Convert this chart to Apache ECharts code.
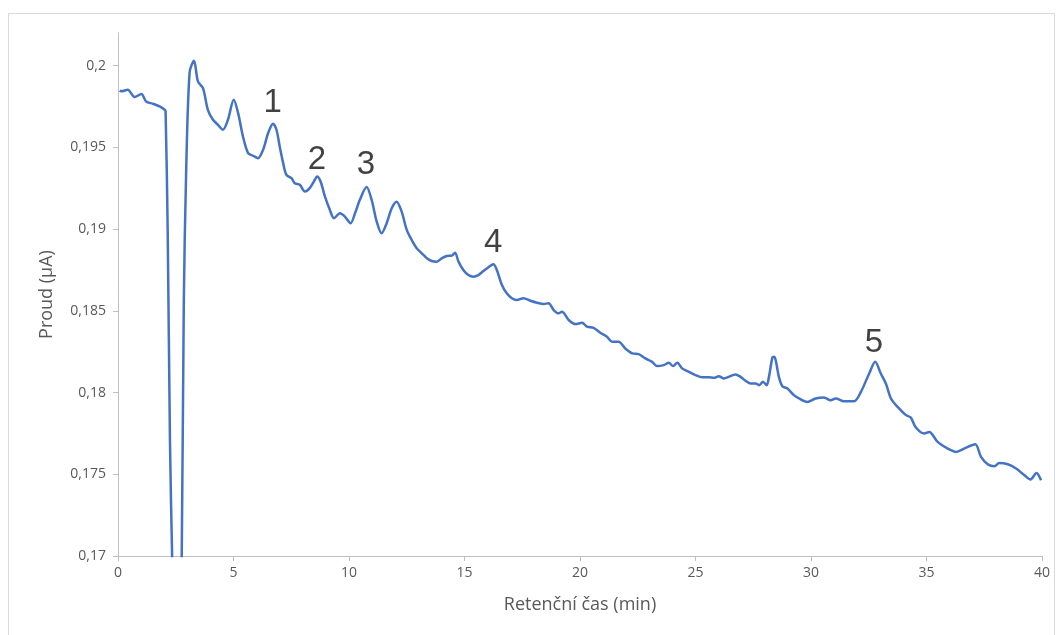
<!DOCTYPE html>
<html lang="cs">

<head>
    <meta charset="UTF-8">
    <title>Chromatogram</title>
    <style>
        * {
            margin: 0;
            padding: 0;
        }

        #main {
            width: 1058px;
            height: 635px;
            background: #fff;
        }
    </style>
</head>

<body>
    <div id="main"></div>
</body>
<script src="https://cdn.jsdelivr.net/npm/echarts@6/dist/echarts.min.js"></script>
<script>
    // retention time (min)
    let times = [
        0.07, 0.14, 0.42, 0.72, 1.01, 1.22, 1.51, 1.80, 2.02,
        2.06, 2.15, 2.25, 2.35, 2.50, 2.65, 2.75, 2.85, 2.95, 3.10,
        3.29, 3.46, 3.68, 3.89, 4.11, 4.33, 4.54, 4.76, 5.01, 5.20,
        5.41, 5.63, 5.85, 6.06, 6.28, 6.50, 6.71, 6.86, 7.00, 7.15,
        7.29, 7.51, 7.65, 7.87, 8.09, 8.30, 8.48, 8.62, 8.77, 8.96,
        9.17, 9.35, 9.61, 9.82, 10.07, 10.26, 10.47, 10.76, 10.98, 11.20,
        11.41, 11.63, 11.85, 12.06, 12.28, 12.50, 12.71, 12.93, 13.15, 13.37,
        13.58, 13.80, 14.02, 14.23, 14.45, 14.59, 14.74, 14.95, 15.17, 15.39,
        15.60, 15.82, 16.04, 16.25, 16.40, 16.62, 16.83, 17.05, 17.27, 17.55,
        17.85, 18.14, 18.42, 18.64, 18.86, 19.07, 19.22, 19.51, 19.80, 20.09,
        20.30, 20.59, 20.88, 21.17, 21.39, 21.67, 21.96, 22.26, 22.54, 22.83,
        23.12, 23.34, 23.63, 23.84, 24.03, 24.21, 24.42, 24.71, 25.00, 25.29,
        25.58, 25.79, 26.01, 26.23, 26.44, 26.73, 26.95, 27.17, 27.39, 27.60,
        27.75, 27.92, 28.08, 28.18, 28.33, 28.40, 28.47, 28.61, 28.76, 28.98,
        29.26, 29.48, 29.84, 30.20, 30.56, 30.85, 31.07, 31.43, 31.87, 32.16,
        32.52, 32.78, 33.02, 33.24, 33.46, 33.75, 34.11, 34.32, 34.54, 34.90,
        35.12, 35.48, 35.92, 36.28, 36.63, 37.11, 37.36, 37.65, 37.94, 38.15,
        38.52, 38.88, 39.24, 39.50, 39.76, 39.96
    ];
    // current (µA)
    let current = [
        0.19847, 0.19843, 0.19853, 0.19808, 0.19827, 0.19781, 0.19767, 0.19751, 0.19730,
        0.1972, 0.1900, 0.1770, 0.1695, 0.1600, 0.1620, 0.1685, 0.1857, 0.1935, 0.1996,
        0.2003, 0.19904, 0.19863, 0.19730, 0.19669, 0.19638, 0.19608, 0.19669, 0.19792, 0.19710,
        0.19567, 0.19465, 0.19449, 0.19434, 0.19485, 0.19588, 0.19645, 0.19608, 0.19506, 0.19404,
        0.19332, 0.19312, 0.19281, 0.19271, 0.19230, 0.19251, 0.19291, 0.19322, 0.19291, 0.19199,
        0.19118, 0.19067, 0.19097, 0.19077, 0.19036, 0.19097, 0.19179, 0.19257, 0.19179, 0.19046,
        0.18975, 0.19036, 0.19128, 0.19168, 0.19107, 0.18995, 0.18934, 0.18883, 0.18852, 0.18822,
        0.18805, 0.18801, 0.18822, 0.18836, 0.18838, 0.18856, 0.18801, 0.18750, 0.18719, 0.18709,
        0.18719, 0.18744, 0.18767, 0.18785, 0.18750, 0.18658, 0.18607, 0.18577, 0.18566, 0.18577,
        0.18562, 0.18550, 0.18542, 0.18546, 0.18505, 0.18485, 0.18494, 0.18444, 0.18419, 0.18427,
        0.18403, 0.18396, 0.18366, 0.18341, 0.18311, 0.18311, 0.18270, 0.18240, 0.18235, 0.18209,
        0.18188, 0.18162, 0.18168, 0.18182, 0.18162, 0.18182, 0.18148, 0.18127, 0.18107, 0.18093,
        0.18093, 0.18090, 0.18100, 0.18086, 0.18096, 0.18111, 0.18096, 0.18072, 0.18056, 0.18056,
        0.18045, 0.18066, 0.18045, 0.18096, 0.18215, 0.18219, 0.18199, 0.18096, 0.18039, 0.18025,
        0.17984, 0.17964, 0.17943, 0.17964, 0.17970, 0.17953, 0.17964, 0.17947, 0.17947, 0.18004,
        0.18117, 0.18188, 0.18117, 0.18056, 0.17964, 0.17912, 0.17862, 0.17847, 0.17786, 0.17749,
        0.17759, 0.17698, 0.17657, 0.17637, 0.17657, 0.17684, 0.17606, 0.17561, 0.17549, 0.17569,
        0.17561, 0.17535, 0.17494, 0.17468, 0.17508, 0.17463
    ];
    // peak numbers and where they are written
    let peakNames = ['1', '2', '3', '4', '5'];
    let peakTimes = [6.7, 8.61, 10.73, 16.24, 32.72];
    let peakLevels = [0.1977, 0.19424, 0.19393, 0.18915, 0.18303];

    let yTicks = [0.17, 0.175, 0.18, 0.185, 0.19, 0.195, 0.2];

    let lineData = times.map((t, i) => [t, current[i]]);
    let peakData = peakNames.map((n, i) => ({ name: n, value: [peakTimes[i], peakLevels[i]] }));

    let axisColor = '#595959';
    let font = 'Open Sans';

    let option = {
        animation: false,
        grid: {
            left: 118,
            right: 16,
            top: 33,
            bottom: 79
        },
        graphic: [{
            type: 'rect',
            shape: { x: 8.5, y: 13.5, width: 1046, height: 640 },
            style: { fill: 'none', stroke: '#d9d9d9', lineWidth: 1 },
            silent: true
        }],
        xAxis: {
            type: 'value',
            min: 0,
            max: 40,
            interval: 5,
            name: 'Retenční čas (min)',
            nameLocation: 'middle',
            nameGap: 40,
            nameTextStyle: { color: axisColor, fontSize: 18, fontFamily: font },
            axisLine: { lineStyle: { color: '#bfbfbf', width: 1 } },
            axisTick: { show: true, length: 5, lineStyle: { color: '#bfbfbf' } },
            axisLabel: { color: axisColor, fontSize: 14, fontFamily: font, margin: 10 },
            splitLine: { show: false }
        },
        yAxis: {
            type: 'value',
            min: 0.17,
            max: 0.202,
            interval: 0.005,
            name: 'Proud (µA)',
            nameLocation: 'middle',
            nameGap: 62,
            nameTextStyle: { color: axisColor, fontSize: 18, fontFamily: font },
            axisLine: { show: true, lineStyle: { color: '#bfbfbf', width: 1 } },
            axisTick: { show: true, length: 5, lineStyle: { color: '#bfbfbf' }, customValues: yTicks },
            axisLabel: {
                color: axisColor,
                fontSize: 14,
                fontFamily: font,
                margin: 12,
                customValues: yTicks,
                formatter: v => String(Math.round(v * 1000) / 1000).replace('.', ',')
            },
            splitLine: { show: false }
        },
        series: [{
            type: 'line',
            data: lineData,
            showSymbol: false,
            smooth: 0.3,
            clip: true,
            lineStyle: { color: '#4472C4', width: 2.5 }
        }, {
            type: 'scatter',
            data: peakData,
            symbolSize: 0,
            silent: true,
            label: {
                show: true,
                position: 'inside',
                formatter: '{b}',
                color: '#111',
                fontSize: 33,
                fontFamily: 'Liberation Sans'
            }
        }]
    };

    let myCharts = echarts.init(document.getElementById('main'));
    myCharts.setOption(option);
</script>

</html>
